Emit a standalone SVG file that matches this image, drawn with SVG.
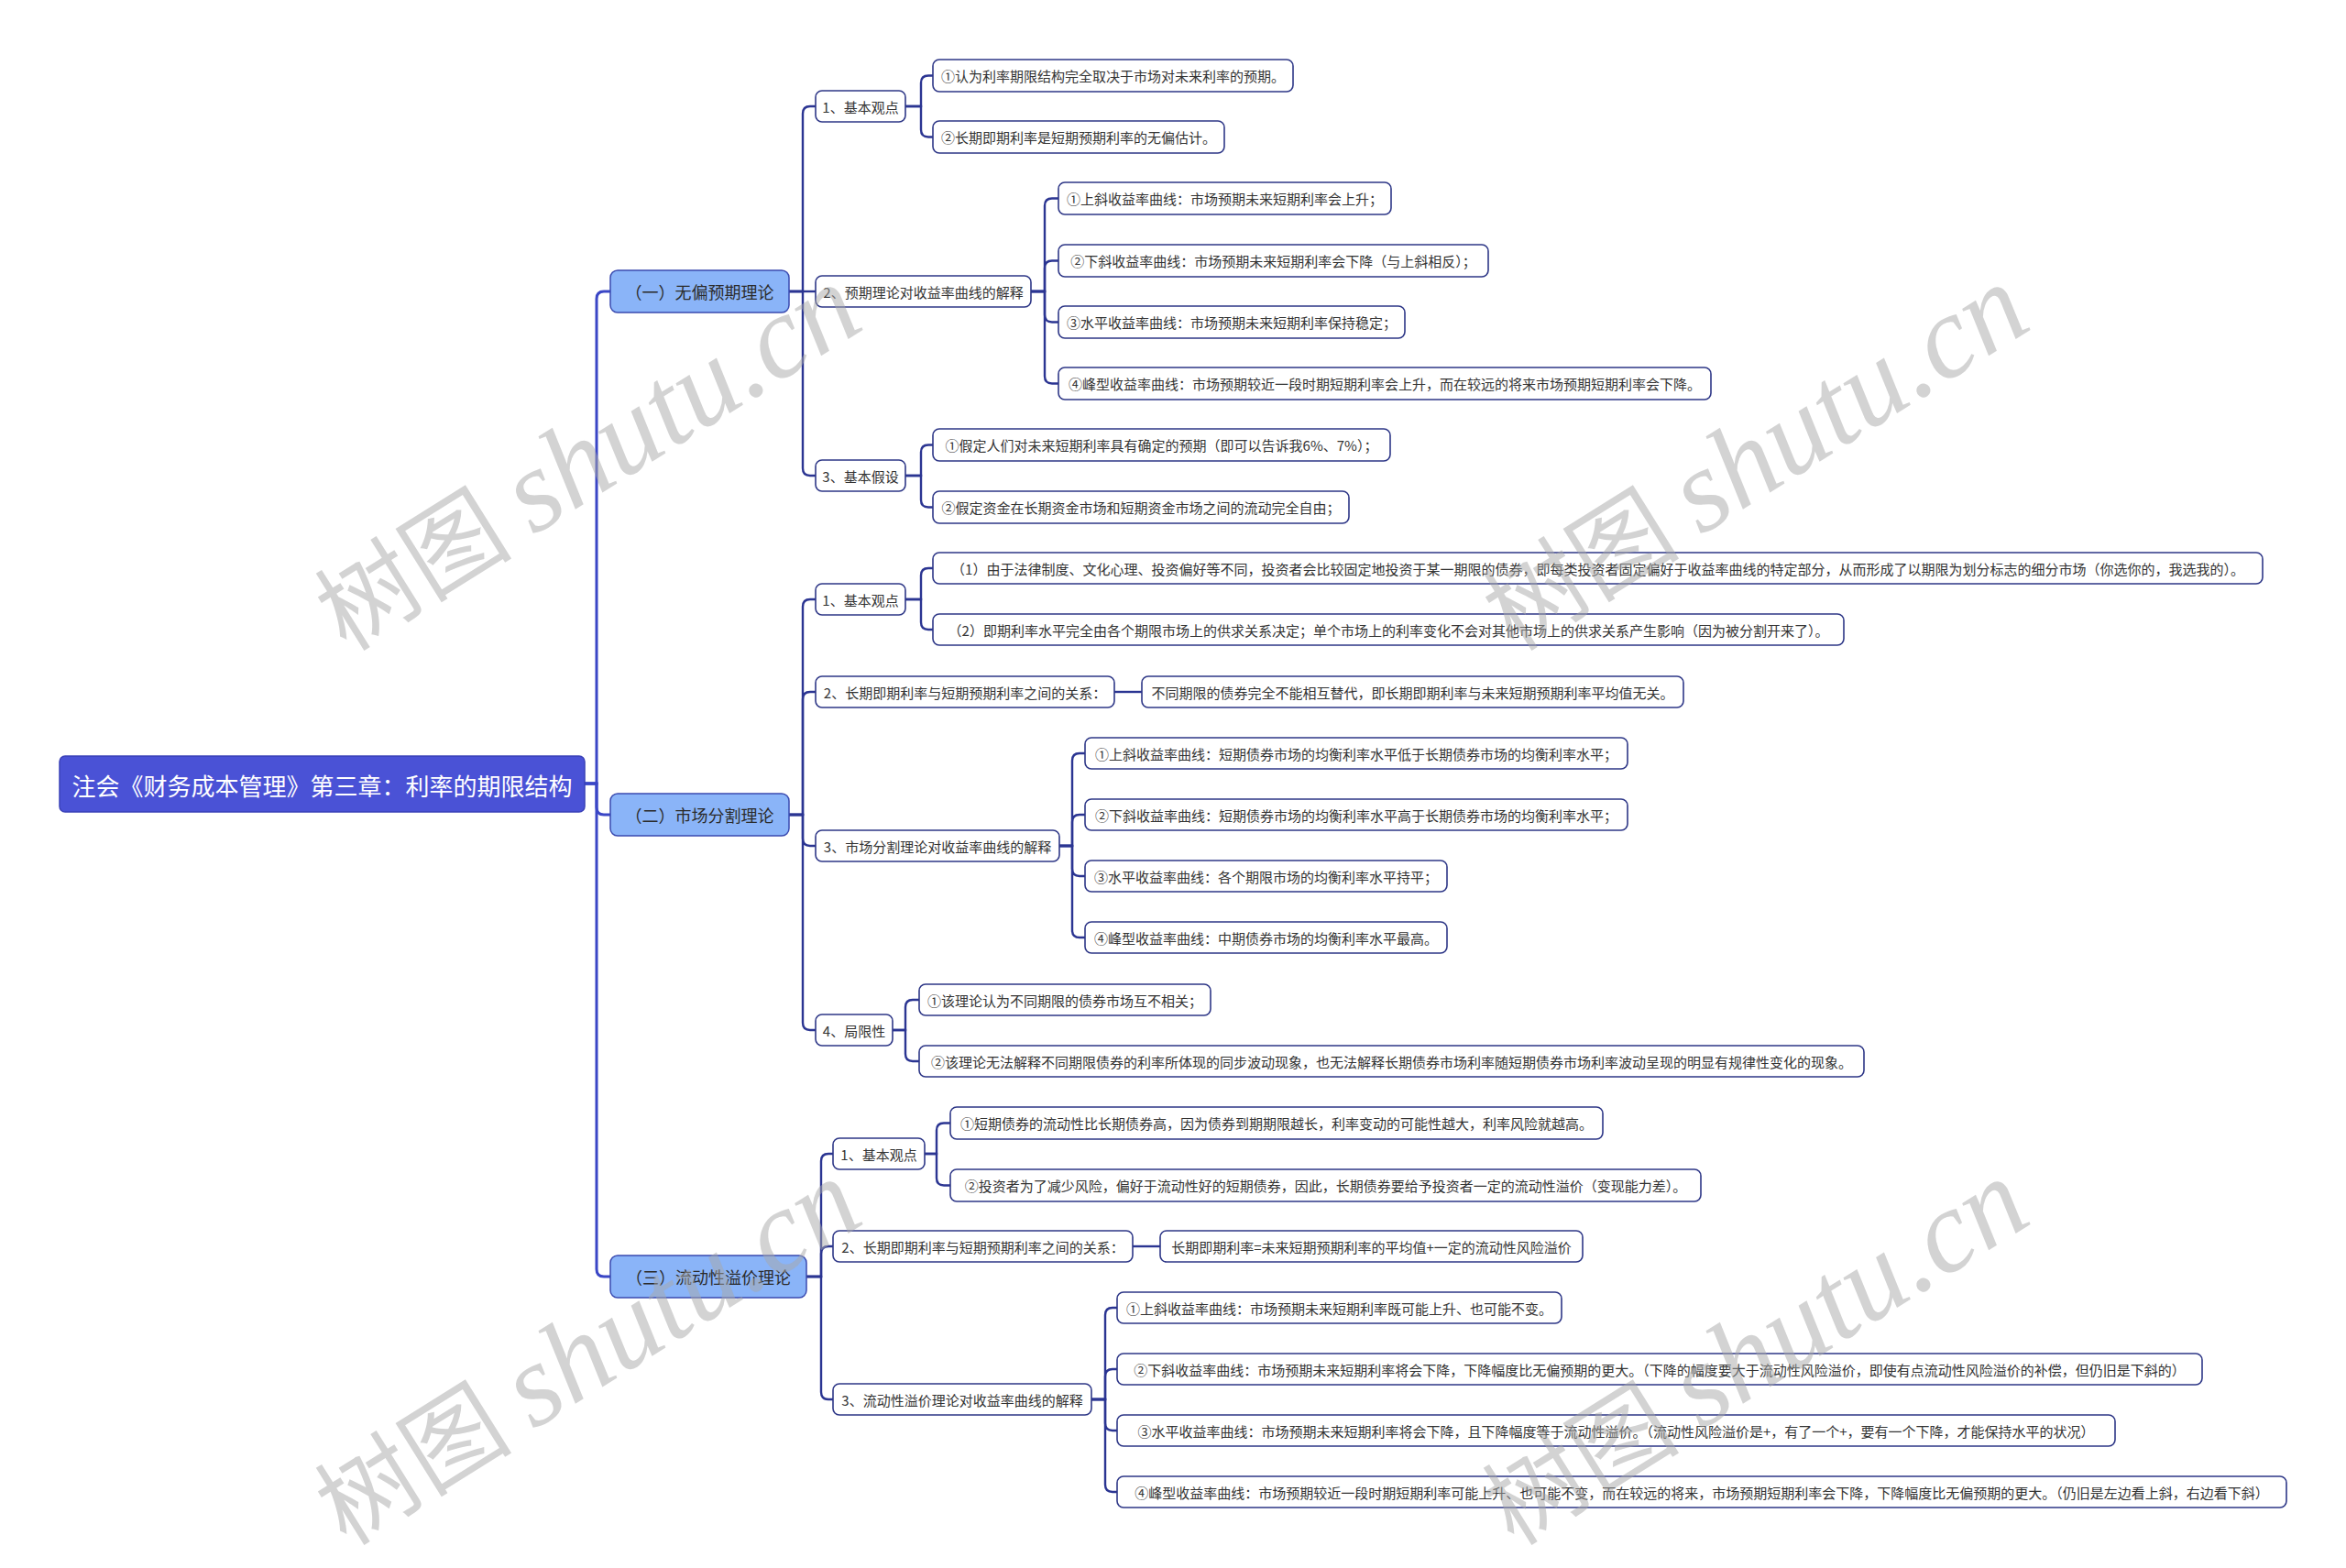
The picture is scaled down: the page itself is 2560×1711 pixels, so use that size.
<svg xmlns="http://www.w3.org/2000/svg" width="2560" height="1711" viewBox="0 0 2560 1711">
<style>
.bg{fill:#ffffff}
.root rect{fill:#4A52D6;stroke:#3A41B8;stroke-width:1.5}
.root text{fill:#ffffff;font-size:26px}
.l1 rect{fill:#8AB4F8;stroke:#3A4AB0;stroke-width:1.5}
.l1 text{fill:#2b2b2b;font-size:18px}
.n rect{fill:#ffffff;stroke:#2E3787;stroke-width:1.6}
.n text{fill:#333333;font-size:15px}
text{font-family:"Noto Sans CJK SC","Microsoft YaHei","Liberation Sans",sans-serif;dominant-baseline:central;text-anchor:middle}
.trunk path{fill:none;stroke:#3A46C6;stroke-width:3}
.links path{fill:none;stroke:#2B3592;stroke-width:2.4}
.wm text{fill:#A8A8A8;fill-opacity:0.5;text-anchor:start;dominant-baseline:alphabetic}
.wm .cjk{font-family:"Noto Sans CJK SC",serif;font-size:108px}
.wm .lat{font-family:"Liberation Serif",serif;font-style:italic;font-size:128px}
</style>
<rect class="bg" x="0" y="0" width="2560" height="1711"/>

<g id="connectors">
  <g class="trunk">
    <path d="M638,855 H651 V326 Q651,318 659,318 H666"/>
    <path d="M638,855 H651 V881 Q651,889 659,889 H666"/>
    <path d="M638,855 H651 V1385 Q651,1393 659,1393 H666"/>
  </g>
  <g class="links">
    <path d="M861,318 H876 V124 Q876,116 884,116 H890"/>
    <path d="M861,318 H890"/>
    <path d="M861,318 H876 V511 Q876,519 884,519 H890"/>
    <path d="M988,116 H1005 V90.5 Q1005,82.5 1013,82.5 H1018"/>
    <path d="M988,116 H1005 V141.5 Q1005,149.5 1013,149.5 H1018"/>
    <path d="M1125,318 H1140 V224.5 Q1140,216.5 1148,216.5 H1155"/>
    <path d="M1125,318 H1140 V292.5 Q1140,284.5 1148,284.5 H1155"/>
    <path d="M1125,318 H1140 V343.5 Q1140,351.5 1148,351.5 H1155"/>
    <path d="M1125,318 H1140 V410.5 Q1140,418.5 1148,418.5 H1155"/>
    <path d="M988,519 H1005 V493.5 Q1005,485.5 1013,485.5 H1018"/>
    <path d="M988,519 H1005 V545.5 Q1005,553.5 1013,553.5 H1018"/>

    <path d="M861,889 H876 V662 Q876,654 884,654 H890"/>
    <path d="M861,889 H876 V763 Q876,755 884,755 H890"/>
    <path d="M861,889 H876 V915 Q876,923 884,923 H890"/>
    <path d="M861,889 H876 V1116 Q876,1124 884,1124 H890"/>
    <path d="M988,654 H1005 V628 Q1005,620 1013,620 H1018"/>
    <path d="M988,654 H1005 V679 Q1005,687 1013,687 H1018"/>
    <path d="M1216,755 H1246"/>
    <path d="M1156,923 H1170 V830 Q1170,822 1178,822 H1184"/>
    <path d="M1156,923 H1170 V897 Q1170,889 1178,889 H1184"/>
    <path d="M1156,923 H1170 V948 Q1170,956 1178,956 H1184"/>
    <path d="M1156,923 H1170 V1015 Q1170,1023 1178,1023 H1184"/>
    <path d="M974,1124 H988 V1099 Q988,1091 996,1091 H1003"/>
    <path d="M974,1124 H988 V1150 Q988,1158 996,1158 H1003"/>

    <path d="M880,1393 H896 V1267 Q896,1259 904,1259 H909"/>
    <path d="M880,1393 H896 V1368 Q896,1360 904,1360 H909"/>
    <path d="M880,1393 H896 V1519 Q896,1527 904,1527 H909"/>
    <path d="M1009,1259 H1022 V1233.5 Q1022,1225.5 1030,1225.5 H1037"/>
    <path d="M1009,1259 H1022 V1285.5 Q1022,1293.5 1030,1293.5 H1037"/>
    <path d="M1236,1360 H1266"/>
    <path d="M1191,1527 H1206 V1435 Q1206,1427 1214,1427 H1219"/>
    <path d="M1191,1527 H1206 V1502 Q1206,1494 1214,1494 H1219"/>
    <path d="M1191,1527 H1206 V1553 Q1206,1561 1214,1561 H1219"/>
    <path d="M1191,1527 H1206 V1620 Q1206,1628 1214,1628 H1219"/>
  </g>
</g>

<g id="root" class="root"><rect x="65" y="825" width="573" height="61" rx="6"/><text x="351.5" y="856">注会《财务成本管理》第三章：利率的期限结构</text></g>

<g id="n-A" class="l1"><rect x="666" y="295" width="195" height="46" rx="8"/><text x="763.5" y="318">（一）无偏预期理论</text></g>
<g id="n-B" class="l1"><rect x="666" y="866" width="195" height="46" rx="8"/><text x="763.5" y="889">（二）市场分割理论</text></g>
<g id="n-C" class="l1"><rect x="666" y="1370" width="214" height="46" rx="8"/><text x="773" y="1393">（三）流动性溢价理论</text></g>

<g id="n-A1" class="n"><rect x="890" y="99" width="98" height="34" rx="7"/><text x="939" y="116">1、基本观点</text></g>
<g id="n-A2" class="n"><rect x="890" y="301" width="235" height="34" rx="7"/><text x="1007.5" y="318">2、预期理论对收益率曲线的解释</text></g>
<g id="n-A3" class="n"><rect x="890" y="502" width="98" height="34" rx="7"/><text x="939" y="519">3、基本假设</text></g>

<g id="n-A1a" class="n"><rect x="1018" y="65" width="393" height="35" rx="7"/><text x="1214.5" y="82.5">①认为利率期限结构完全取决于市场对未来利率的预期。</text></g>
<g id="n-A1b" class="n"><rect x="1018" y="132" width="318" height="35" rx="7"/><text x="1177" y="149.5">②长期即期利率是短期预期利率的无偏估计。</text></g>

<g id="n-A2a" class="n"><rect x="1155" y="199" width="363" height="35" rx="7"/><text x="1336.5" y="216.5">①上斜收益率曲线：市场预期未来短期利率会上升；</text></g>
<g id="n-A2b" class="n"><rect x="1155" y="267" width="469" height="35" rx="7"/><text x="1389.5" y="284.5">②下斜收益率曲线：市场预期未来短期利率会下降（与上斜相反）；</text></g>
<g id="n-A2c" class="n"><rect x="1155" y="334" width="378" height="35" rx="7"/><text x="1344" y="351.5">③水平收益率曲线：市场预期未来短期利率保持稳定；</text></g>
<g id="n-A2d" class="n"><rect x="1155" y="401" width="712" height="35" rx="7"/><text x="1511" y="418.5">④峰型收益率曲线：市场预期较近一段时期短期利率会上升，而在较远的将来市场预期短期利率会下降。</text></g>

<g id="n-A3a" class="n"><rect x="1018" y="468" width="499" height="35" rx="7"/><text x="1267.5" y="485.5">①假定人们对未来短期利率具有确定的预期（即可以告诉我6%、7%）；</text></g>
<g id="n-A3b" class="n"><rect x="1018" y="536" width="454" height="35" rx="7"/><text x="1245" y="553.5">②假定资金在长期资金市场和短期资金市场之间的流动完全自由；</text></g>

<g id="n-B1" class="n"><rect x="890" y="637" width="98" height="34" rx="7"/><text x="939" y="654">1、基本观点</text></g>
<g id="n-B2" class="n"><rect x="890" y="738" width="326" height="34" rx="7"/><text x="1053" y="755">2、长期即期利率与短期预期利率之间的关系：</text></g>
<g id="n-B3" class="n"><rect x="890" y="906" width="266" height="34" rx="7"/><text x="1023" y="923">3、市场分割理论对收益率曲线的解释</text></g>
<g id="n-B4" class="n"><rect x="890" y="1107" width="84" height="34" rx="7"/><text x="932" y="1124">4、局限性</text></g>

<g id="n-B1a" class="n"><rect x="1018" y="603" width="1451" height="34" rx="7"/><text x="1743.5" y="620">（1）由于法律制度、文化心理、投资偏好等不同，投资者会比较固定地投资于某一期限的债券，即每类投资者固定偏好于收益率曲线的特定部分，从而形成了以期限为划分标志的细分市场（你选你的，我选我的）。</text></g>
<g id="n-B1b" class="n"><rect x="1018" y="670" width="994" height="34" rx="7"/><text x="1515" y="687">（2）即期利率水平完全由各个期限市场上的供求关系决定；单个市场上的利率变化不会对其他市场上的供求关系产生影响（因为被分割开来了）。</text></g>

<g id="n-B2a" class="n"><rect x="1246" y="738" width="591" height="34" rx="7"/><text x="1541.5" y="755">不同期限的债券完全不能相互替代，即长期即期利率与未来短期预期利率平均值无关。</text></g>

<g id="n-B3a" class="n"><rect x="1184" y="805" width="592" height="34" rx="7"/><text x="1480" y="822">①上斜收益率曲线：短期债券市场的均衡利率水平低于长期债券市场的均衡利率水平；</text></g>
<g id="n-B3b" class="n"><rect x="1184" y="872" width="592" height="34" rx="7"/><text x="1480" y="889">②下斜收益率曲线：短期债券市场的均衡利率水平高于长期债券市场的均衡利率水平；</text></g>
<g id="n-B3c" class="n"><rect x="1184" y="939" width="395" height="34" rx="7"/><text x="1381.5" y="956">③水平收益率曲线：各个期限市场的均衡利率水平持平；</text></g>
<g id="n-B3d" class="n"><rect x="1184" y="1006" width="395" height="34" rx="7"/><text x="1381.5" y="1023">④峰型收益率曲线：中期债券市场的均衡利率水平最高。</text></g>

<g id="n-B4a" class="n"><rect x="1003" y="1074" width="318" height="34" rx="7"/><text x="1162" y="1091">①该理论认为不同期限的债券市场互不相关；</text></g>
<g id="n-B4b" class="n"><rect x="1003" y="1141" width="1031" height="34" rx="7"/><text x="1518.5" y="1158">②该理论无法解释不同期限债券的利率所体现的同步波动现象，也无法解释长期债券市场利率随短期债券市场利率波动呈现的明显有规律性变化的现象。</text></g>

<g id="n-C1" class="n"><rect x="909" y="1242" width="100" height="34" rx="7"/><text x="959" y="1259">1、基本观点</text></g>
<g id="n-C2" class="n"><rect x="909" y="1343" width="327" height="34" rx="7"/><text x="1072.5" y="1360">2、长期即期利率与短期预期利率之间的关系：</text></g>
<g id="n-C3" class="n"><rect x="909" y="1510" width="282" height="34" rx="7"/><text x="1050" y="1527">3、流动性溢价理论对收益率曲线的解释</text></g>

<g id="n-C1a" class="n"><rect x="1037" y="1208" width="712" height="35" rx="7"/><text x="1393" y="1225.5">①短期债券的流动性比长期债券高，因为债券到期期限越长，利率变动的可能性越大，利率风险就越高。</text></g>
<g id="n-C1b" class="n"><rect x="1037" y="1276" width="819" height="35" rx="7"/><text x="1446.5" y="1293.5">②投资者为了减少风险，偏好于流动性好的短期债券，因此，长期债券要给予投资者一定的流动性溢价（变现能力差）。</text></g>

<g id="n-C2a" class="n"><rect x="1266" y="1343" width="461" height="34" rx="7"/><text x="1496.5" y="1360">长期即期利率=未来短期预期利率的平均值+一定的流动性风险溢价</text></g>

<g id="n-C3a" class="n"><rect x="1219" y="1410" width="485" height="34" rx="7"/><text x="1461.5" y="1427">①上斜收益率曲线：市场预期未来短期利率既可能上升、也可能不变。</text></g>
<g id="n-C3b" class="n"><rect x="1219" y="1477" width="1184" height="34" rx="7"/><text x="1811" y="1494">②下斜收益率曲线：市场预期未来短期利率将会下降，下降幅度比无偏预期的更大。（下降的幅度要大于流动性风险溢价，即使有点流动性风险溢价的补偿，但仍旧是下斜的）</text></g>
<g id="n-C3c" class="n"><rect x="1219" y="1544" width="1089" height="34" rx="7"/><text x="1763.5" y="1561">③水平收益率曲线：市场预期未来短期利率将会下降，且下降幅度等于流动性溢价。（流动性风险溢价是+，有了一个+，要有一个下降，才能保持水平的状况）</text></g>
<g id="n-C3d" class="n"><rect x="1219" y="1611" width="1276" height="34" rx="7"/><text x="1857" y="1628">④峰型收益率曲线：市场预期较近一段时期短期利率可能上升、也可能不变，而在较远的将来，市场预期短期利率会下降，下降幅度比无偏预期的更大。（仍旧是左边看上斜，右边看下斜）</text></g>

<g id="watermarks" class="wm">
  <text transform="translate(378,712) rotate(-32)"><tspan class="cjk">树图 </tspan><tspan class="lat">shutu.cn</tspan></text>
  <text transform="translate(1652,712) rotate(-32)"><tspan class="cjk">树图 </tspan><tspan class="lat">shutu.cn</tspan></text>
  <text transform="translate(378,1688) rotate(-32)"><tspan class="cjk">树图 </tspan><tspan class="lat">shutu.cn</tspan></text>
  <text transform="translate(1652,1688) rotate(-32)"><tspan class="cjk">树图 </tspan><tspan class="lat">shutu.cn</tspan></text>
</g>
</svg>
